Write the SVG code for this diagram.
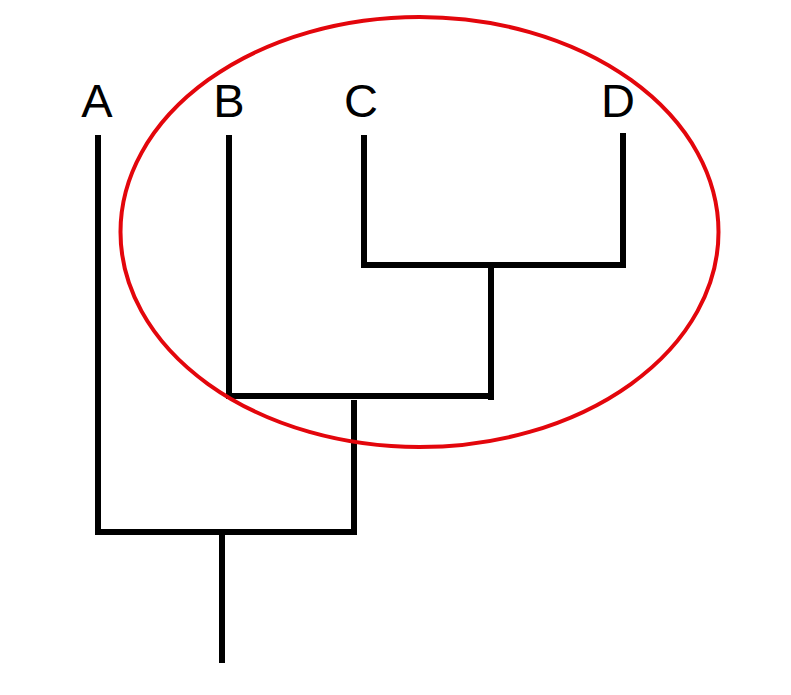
<svg xmlns="http://www.w3.org/2000/svg" width="791" height="695" viewBox="0 0 791 695">
<style>
.lbl{font-family:"Liberation Sans",Arial,sans-serif;font-size:47px;fill:#000;text-anchor:middle}
.br{stroke:#000;stroke-width:6;fill:none;stroke-linecap:butt}
</style>
<rect width="791" height="695" fill="#fff"/>
<g id="connectors">
<line class="br" x1="98" y1="135" x2="98" y2="535"/>
<line class="br" x1="229" y1="135" x2="229" y2="399"/>
<line class="br" x1="364" y1="135" x2="364" y2="268"/>
<line class="br" x1="623" y1="133" x2="623" y2="268"/>
<line class="br" x1="361" y1="265" x2="626" y2="265"/>
<line class="br" x1="491" y1="262" x2="491" y2="400"/>
<line class="br" x1="226" y1="396" x2="488" y2="396"/>
<line class="br" x1="354" y1="400" x2="354" y2="535"/>
<line class="br" x1="95" y1="532" x2="357" y2="532"/>
<line class="br" x1="222" y1="535" x2="222" y2="663"/>
</g>
<g id="nodeA"><text class="lbl" x="97" y="117">A</text></g>
<g id="nodeB"><text class="lbl" x="229" y="117">B</text></g>
<g id="nodeC"><text class="lbl" x="361" y="117">C</text></g>
<g id="nodeD"><text class="lbl" x="618" y="117">D</text></g>
<g id="clade"><ellipse cx="419.5" cy="232" rx="299" ry="215" fill="none" stroke="#e3060c" stroke-width="4"/></g>
</svg>
